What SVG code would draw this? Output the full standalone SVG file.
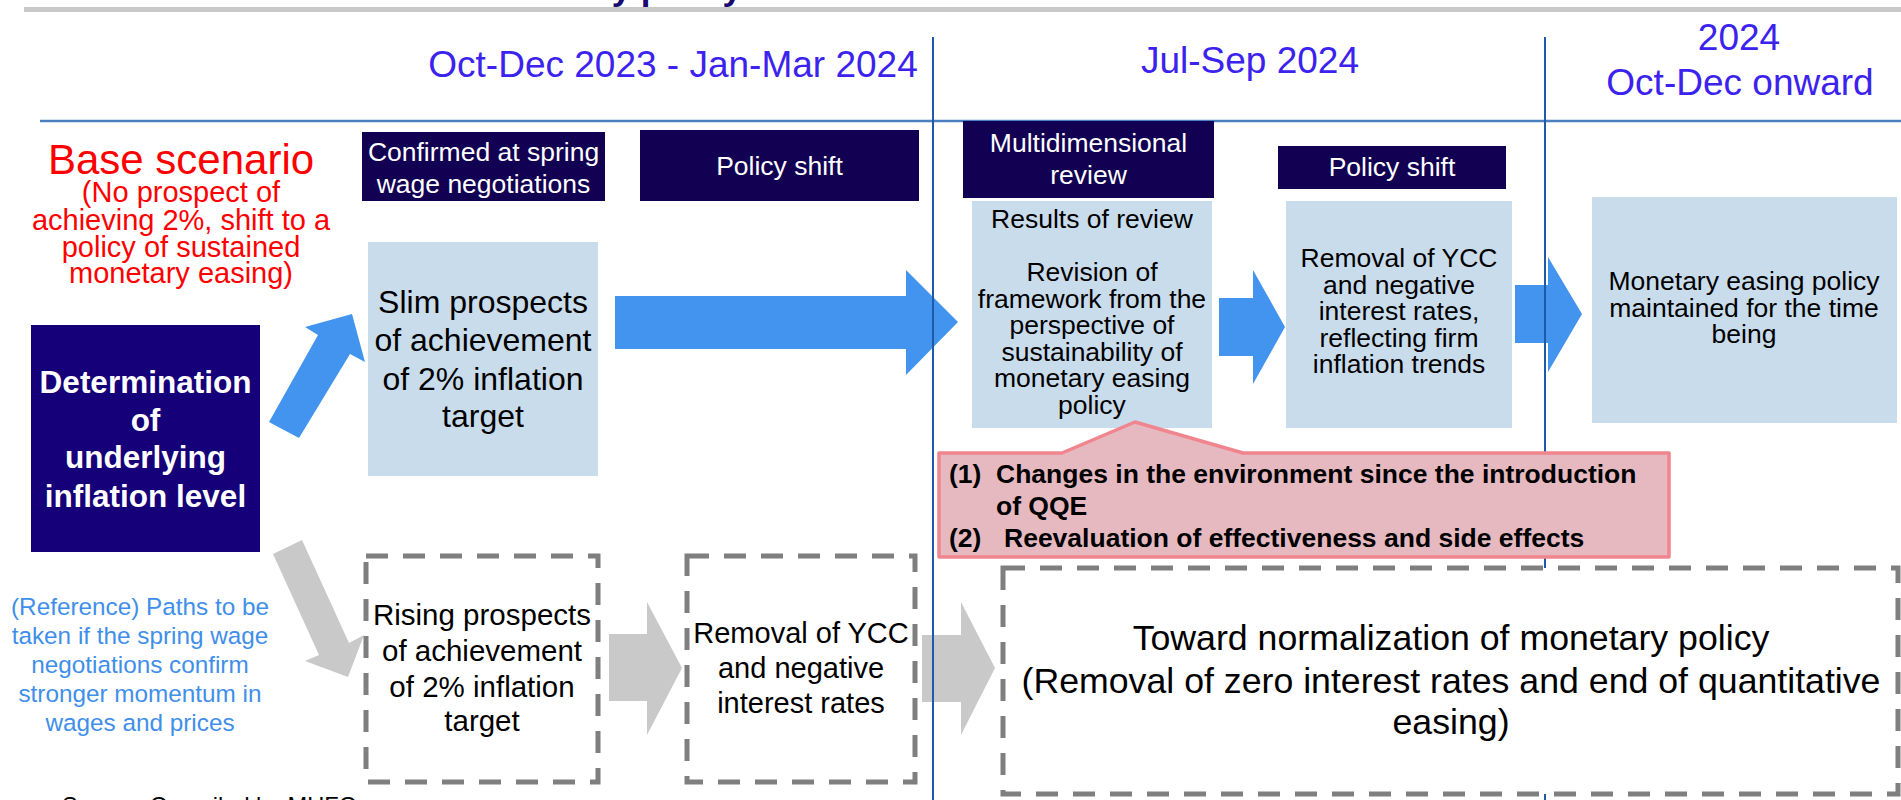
<svg xmlns="http://www.w3.org/2000/svg" width="1901" height="800" viewBox="0 0 1901 800">
  <style>
    text { font-family: "Liberation Sans", Arial, sans-serif; }
    .period { fill: #3b22ee; font-size: 37px; text-anchor: middle; }
    .hdr { fill: #120052; }
    .hdr-t { fill: #ffffff; font-size: 26.5px; text-anchor: middle; }
    .pale { fill: #c9dcec; }
    .pale-t { fill: #000000; font-size: 26.5px; text-anchor: middle; }
    .dash { fill: #ffffff; stroke: #7f7f7f; stroke-width: 5; stroke-dasharray: 22 15; }
    .dash-t { fill: #000000; text-anchor: middle; }
    .blue-arrow { fill: #4294ee; }
    .grey-arrow { fill: #c9c9c9; }
    .axis { stroke: #4a7fc0; stroke-width: 2.5; fill: none; }
    .divider { stroke: #1f5aa8; stroke-width: 2; fill: none; }
    .note { font-size: 26.5px; font-weight: bold; fill: #000000; }
  </style>

  <!-- page header strip -->
  <g id="page-title">
    <text x="742" y="-0.5" font-size="35" font-weight="bold" fill="#170a70" text-anchor="end">monetary policy</text>
    <rect x="24" y="7" width="1877" height="5" fill="#c8c8c8"/>
  </g>

  <!-- arrows -->
  <g id="connectors">
    <polygon class="blue-arrow" points="269,422 318,335 305,327 352,314 365,362 350,354 299,438"/>
    <polygon class="blue-arrow" points="615,296 906,296 906,270 958,322 906,375 906,349 615,349"/>
    <polygon class="blue-arrow" points="1219,298 1253,298 1253,270 1285,327 1253,384 1253,356 1219,356"/>
    <polygon class="blue-arrow" points="1515,285 1548,285 1548,257 1582,314 1548,372 1548,343 1515,343"/>
    <polygon class="grey-arrow" points="273,554 302,540 349,643 364,635 348,677 305,661 319,655"/>
    <polygon class="grey-arrow" points="609,634 647,634 647,602 682,668 647,735 647,701 609,701"/>
    <polygon class="grey-arrow" points="922,635 961,635 961,602 995,668 961,735 961,702 922,702"/>
  </g>

  <!-- timeline grid -->
  <g id="timeline">
    <line class="axis" x1="40" y1="121" x2="1901" y2="121"/>
    <line class="divider" x1="933" y1="37" x2="933" y2="800"/>
    <line class="divider" x1="1545" y1="37" x2="1545" y2="800"/>
    <text class="period" x="673" y="77">Oct-Dec 2023 - Jan-Mar 2024</text>
    <text class="period" x="1250" y="73">Jul-Sep 2024</text>
    <text class="period" x="1739" y="50">2024</text>
    <text class="period" x="1740" y="95">Oct-Dec onward</text>
  </g>

  <!-- left-hand labels -->
  <g id="base-scenario" fill="#ff0000" text-anchor="middle">
    <text x="181" y="174" font-size="42">Base scenario</text>
    <text x="181" y="202" font-size="29">(No prospect of</text>
    <text x="181" y="230" font-size="29">achieving 2%, shift to a</text>
    <text x="181" y="257" font-size="29">policy of sustained</text>
    <text x="181" y="283" font-size="29">monetary easing)</text>
  </g>

  <g id="reference-path" fill="#3f8fea" text-anchor="middle" font-size="24.3">
    <text x="140" y="615">(Reference) Paths to be</text>
    <text x="140" y="644">taken if the spring wage</text>
    <text x="140" y="673">negotiations confirm</text>
    <text x="140" y="702">stronger momentum in</text>
    <text x="140" y="731">wages and prices</text>
  </g>

  <g id="determination">
    <rect x="31" y="325" width="229" height="227" fill="#16007a"/>
    <g fill="#ffffff" font-size="31.5" font-weight="bold" text-anchor="middle">
      <text x="145.5" y="393">Determination</text>
      <text x="145.5" y="431">of</text>
      <text x="145.5" y="468">underlying</text>
      <text x="145.5" y="507">inflation level</text>
    </g>
  </g>

  <!-- stage headers -->
  <g id="hdr-spring-wage">
    <rect class="hdr" x="362" y="132" width="243" height="69"/>
    <text class="hdr-t" x="483.5" y="161">Confirmed at spring</text>
    <text class="hdr-t" x="483.5" y="193">wage negotiations</text>
  </g>
  <g id="hdr-policy-shift-1">
    <rect class="hdr" x="640" y="130" width="279" height="71"/>
    <text class="hdr-t" x="779.5" y="175">Policy shift</text>
  </g>
  <g id="hdr-review">
    <rect class="hdr" x="963" y="121" width="251" height="77"/>
    <text class="hdr-t" x="1088.5" y="152">Multidimensional</text>
    <text class="hdr-t" x="1088.5" y="184">review</text>
  </g>
  <g id="hdr-policy-shift-2">
    <rect class="hdr" x="1278" y="146" width="228" height="43"/>
    <text class="hdr-t" x="1392" y="176">Policy shift</text>
  </g>

  <!-- base path -->
  <g id="slim-prospects">
    <rect class="pale" x="368" y="242" width="230" height="234"/>
    <g class="pale-t" font-size="32">
      <text x="483" y="313" font-size="32">Slim prospects</text>
      <text x="483" y="351" font-size="32">of achievement</text>
      <text x="483" y="390" font-size="32">of 2% inflation</text>
      <text x="483" y="427" font-size="32">target</text>
    </g>
  </g>

  <g id="review-results">
    <rect class="pale" x="972" y="201" width="240" height="227"/>
    <text class="pale-t" x="1092" y="228">Results of review</text>
    <text class="pale-t" x="1092" y="281">Revision of</text>
    <text class="pale-t" x="1092" y="307.5">framework from the</text>
    <text class="pale-t" x="1092" y="334">perspective of</text>
    <text class="pale-t" x="1092" y="360.5">sustainability of</text>
    <text class="pale-t" x="1092" y="387">monetary easing</text>
    <text class="pale-t" x="1092" y="413.5">policy</text>
  </g>

  <g id="ycc-removal">
    <rect class="pale" x="1286" y="201" width="226" height="227"/>
    <text class="pale-t" x="1399" y="267">Removal of YCC</text>
    <text class="pale-t" x="1399" y="293.5">and negative</text>
    <text class="pale-t" x="1399" y="320">interest rates,</text>
    <text class="pale-t" x="1399" y="346.5">reflecting firm</text>
    <text class="pale-t" x="1399" y="373">inflation trends</text>
  </g>

  <g id="easing-maintained">
    <rect class="pale" x="1592" y="197" width="305" height="226"/>
    <text class="pale-t" x="1744" y="290">Monetary easing policy</text>
    <text class="pale-t" x="1744" y="316.5">maintained for the time</text>
    <text class="pale-t" x="1744" y="343">being</text>
  </g>

  <g id="review-points">
    <path d="M939,453 H1062 L1135,422 L1243,453 H1669 V557 H939 Z" fill="#e6b9c0" stroke="#f0858e" stroke-width="3.5" stroke-linejoin="round"/>
    <text class="note" x="949" y="483">(1)</text>
    <text class="note" x="996" y="483">Changes in the environment since the introduction</text>
    <text class="note" x="996" y="515">of QQE</text>
    <text class="note" x="949" y="547">(2)</text>
    <text class="note" x="1004" y="547">Reevaluation of effectiveness and side effects</text>
  </g>

  <!-- reference path -->
  <g id="rising-prospects">
    <rect class="dash" x="366" y="556" width="232" height="226"/>
    <g class="dash-t" font-size="29.5">
      <text x="482" y="625">Rising prospects</text>
      <text x="482" y="661">of achievement</text>
      <text x="482" y="697">of 2% inflation</text>
      <text x="482" y="731">target</text>
    </g>
  </g>

  <g id="ycc-removal-early">
    <rect class="dash" x="687" y="556" width="228" height="226"/>
    <g class="dash-t" font-size="29">
      <text x="801" y="643">Removal of YCC</text>
      <text x="801" y="678">and negative</text>
      <text x="801" y="713">interest rates</text>
    </g>
  </g>

  <g id="normalization">
    <rect class="dash" x="1003" y="568" width="895" height="226"/>
    <g class="dash-t" font-size="35.7">
      <text x="1451" y="650">Toward normalization of monetary policy</text>
      <text x="1451" y="693">(Removal of zero interest rates and end of quantitative</text>
      <text x="1451" y="734">easing)</text>
    </g>
  </g>

  <g id="source-note">
    <text x="62" y="814" font-size="23.6" fill="#000000">Source: Compiled by MUFG</text>
  </g>
</svg>
